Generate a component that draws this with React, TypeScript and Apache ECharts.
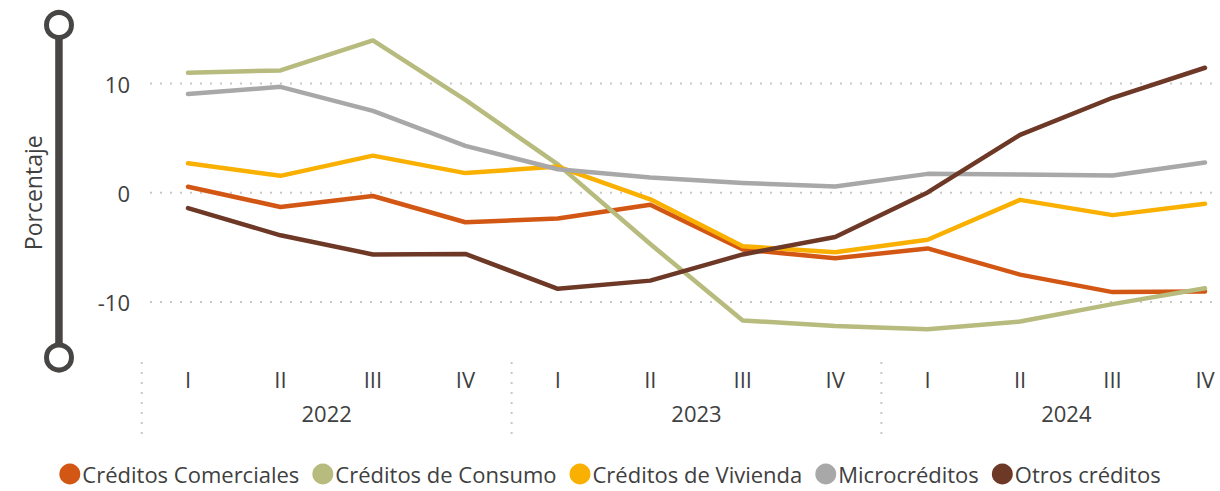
import React, { useEffect, useRef } from "react";
import * as echarts from "echarts";

const years = ["2022", "2023", "2024"];
const quarters = ["I", "II", "III", "IV"];
const categories = years.flatMap((y) => quarters.map((q) => `${y}-${q}`));

const comerciales = [0.55, -1.3, -0.3, -2.7, -2.35, -1.1, -5.2, -6.0, -5.1, -7.5, -9.1, -9.05];
const consumo = [11.0, 11.2, 13.95, 8.5, 2.6, -4.7, -11.7, -12.2, -12.5, -11.8, -10.2, -8.75];
const vivienda = [2.7, 1.55, 3.4, 1.8, 2.4, -0.6, -4.9, -5.45, -4.3, -0.65, -2.05, -1.0];
const micro = [9.05, 9.7, 7.5, 4.3, 2.15, 1.4, 0.9, 0.58, 1.73, 1.67, 1.58, 2.78];
const otros = [-1.4, -3.9, -5.65, -5.6, -8.8, -8.05, -5.65, -4.05, 0.03, 5.3, 8.7, 11.45];

const seriesNames = [
  "Créditos Comerciales",
  "Créditos de Consumo",
  "Créditos de Vivienda",
  "Microcréditos",
  "Otros créditos",
];
const seriesData = [comerciales, consumo, vivienda, micro, otros];
const colors = ["#D35714", "#B8BB7E", "#F9B000", "#A8A8A8", "#6E3827"];

const yTicks = [-10, 0, 10];
const FONT = "'Open Sans', 'Noto Sans', sans-serif";
const TXT = "#404040";
const DARK = "#484644";

export default function App() {
  const ref = useRef<HTMLDivElement>(null);

  useEffect(() => {
    document.body.style.margin = "0";
    const el = ref.current!;
    const chart = echarts.init(el, null, { renderer: "svg" });
    chart.setOption({
      animation: false,
      backgroundColor: "#ffffff",
      textStyle: { fontFamily: FONT },
      color: colors,
      grid: { left: 188, right: 15, top: 29, bottom: 134.5, containLabel: false },
      legend: {
        bottom: 1,
        left: "center",
        icon: "circle",
        itemWidth: 21,
        itemHeight: 21,
        itemGap: 13,
        textStyle: { fontSize: 22, color: TXT, fontFamily: FONT, padding: [0, 0, 0, -3] },
        data: seriesNames,
      },
      xAxis: {
        type: "category",
        data: categories,
        boundaryGap: false,
        axisLine: { show: false },
        axisTick: { show: false },
        splitLine: { show: false },
        axisLabel: {
          formatter: (v: string) => v.split("-")[1],
          fontSize: 22,
          color: TXT,
          margin: 11,
          interval: 0,
        },
      },
      yAxis: {
        type: "value",
        min: -15,
        max: 15,
        interval: 5,
        axisLine: { show: false },
        axisTick: { show: false },
        splitLine: { show: false },
        axisLabel: {
          formatter: (v: number) => (yTicks.includes(v) ? String(v) : ""),
          fontSize: 22,
          color: TXT,
          margin: 58,
        },
      },
      series: seriesNames.map((name, i) => ({
        name,
        type: "line",
        data: seriesData[i],
        symbol: "none",
        lineStyle: { width: 4.5, cap: "round", join: "round" },
        emphasis: { disabled: true },
      })),
    });

    const px = (i: number) => chart.convertToPixel({ xAxisIndex: 0 }, i) as number;
    const py = (v: number) => chart.convertToPixel({ yAxisIndex: 0 }, v) as number;
    const step = px(1) - px(0);
    const graphics: any[] = [];
    yTicks.forEach((v) => {
      graphics.push({
        type: "line",
        z: 0,
        silent: true,
        shape: { x1: 150, y1: py(v), x2: 1212, y2: py(v) },
        style: { stroke: "#c8c8c8", lineWidth: 2, lineDash: [2, 8] },
      });
    });
    const seps = [px(0) - step / 2, (px(3) + px(4)) / 2, (px(7) + px(8)) / 2];
    seps.forEach((x) => {
      graphics.push({
        type: "line",
        z: 0,
        silent: true,
        shape: { x1: x, y1: 362, x2: x, y2: 436 },
        style: { stroke: "#c8c8c8", lineWidth: 2, lineDash: [2, 8] },
      });
    });
    years.forEach((y, k) => {
      graphics.push({
        type: "text",
        x: (px(k * 4) + px(k * 4 + 3)) / 2,
        y: 413,
        style: { text: y, fontSize: 22, fill: TXT, fontFamily: FONT, align: "center", verticalAlign: "middle" },
      });
    });
    const yTop = py(15) - 4;
    const yBot = py(-15) + 1;
    graphics.push({
      type: "rect",
      shape: { x: 55.2, y: yTop, width: 7.5, height: yBot - yTop },
      style: { fill: DARK },
    });
    [yTop, yBot].forEach((cy) => {
      graphics.push({
        type: "circle",
        shape: { cx: 59, cy, r: 12.5 },
        style: { fill: "#ffffff", stroke: DARK, lineWidth: 5 },
      });
    });
    graphics.push({
      type: "text",
      x: 33,
      y: (py(15) + py(-15)) / 2,
      rotation: Math.PI / 2,
      style: { text: "Porcentaje", fontSize: 23, fill: TXT, fontFamily: FONT, align: "center", verticalAlign: "middle" },
    });
    chart.setOption({ graphic: graphics });

    return () => chart.dispose();
  }, []);

  return <div ref={ref} style={{ width: 1220, height: 491 }} />;
}
